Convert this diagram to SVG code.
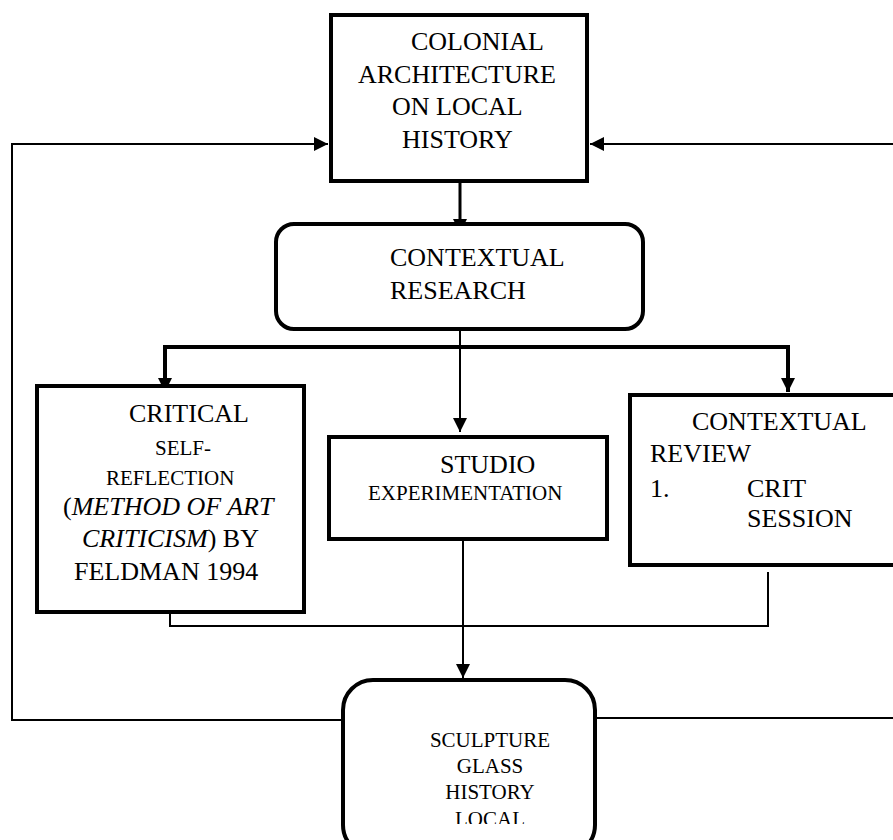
<svg xmlns="http://www.w3.org/2000/svg" width="893" height="840" viewBox="0 0 893 840" font-family="'Liberation Serif', 'Times New Roman', 'DejaVu Serif', serif">
<style>
.box{fill:#fff;stroke:#000;stroke-width:4}
text{font-family:'Liberation Serif','Times New Roman','DejaVu Serif',serif;fill:#000;font-size:26px}
text.s{font-size:21px}
.thin{fill:none;stroke:#000;stroke-width:2}
.mid{fill:none;stroke:#000;stroke-width:3}
.thick{fill:none;stroke:#000;stroke-width:4}
</style>
<defs>
<marker id="ah" markerWidth="14" markerHeight="14" refX="14" refY="7" orient="auto" markerUnits="userSpaceOnUse">
<path d="M0,0 L14,7 L0,14 z" fill="#000"/>
</marker>
<clipPath id="sclip"><rect x="343" y="680" width="252" height="144"/></clipPath>
</defs>
<g id="connectors">
<path class="thin" d="M343,720 H12 V144 H328" marker-end="url(#ah)"/>
<path class="thin" d="M595,718 H900 V144 H590" marker-end="url(#ah)"/>
<path class="mid" d="M460,182 V233" marker-end="url(#ah)"/>
<path class="thin" d="M460,330 V432" marker-end="url(#ah)"/>
<path class="thick" d="M462,347 H165 V392" marker-end="url(#ah)"/>
<path class="thick" d="M458,347 H788 V392" marker-end="url(#ah)"/>
<path class="thin" d="M463,539 V678" marker-end="url(#ah)"/>
<path class="thin" d="M170,613 V626 H768 V572"/>
</g>
<g id="colonial">
<rect class="box" x="331" y="15" width="256" height="166"/>
<text x="411" y="50">COLONIAL</text>
<text x="358" y="83">ARCHITECTURE</text>
<text x="392" y="115">ON LOCAL</text>
<text x="402" y="148">HISTORY</text>
</g>
<g id="contextual-research">
<rect class="box" x="276" y="224" width="367" height="105" rx="18"/>
<text x="390" y="266">CONTEXTUAL</text>
<text x="390" y="299">RESEARCH</text>
</g>
<g id="critical">
<rect class="box" x="37" y="386" width="267" height="226"/>
<text x="129" y="422">CRITICAL</text>
<text class="s" x="155" y="455">SELF-</text>
<text class="s" x="106" y="485">REFLECTION</text>
<text x="63" y="515">(<tspan font-style="italic">METHOD OF ART</tspan></text>
<text x="82" y="547"><tspan font-style="italic">CRITICISM</tspan>) BY</text>
<text x="74" y="580">FELDMAN 1994</text>
</g>
<g id="studio">
<rect class="box" x="329" y="437" width="278" height="102"/>
<text x="440" y="473">STUDIO</text>
<text class="s" x="368" y="500">EXPERIMENTATION</text>
</g>
<g id="contextual-review">
<rect class="box" x="630" y="395" width="280" height="170"/>
<text x="692" y="430">CONTEXTUAL</text>
<text x="650" y="462">REVIEW</text>
<text x="650" y="497">1.</text>
<text x="747" y="497">CRIT</text>
<text x="747" y="527">SESSION</text>
</g>
<g id="sculpture">
<rect class="box" x="343" y="680" width="252" height="175" rx="30"/>
<g clip-path="url(#sclip)" text-anchor="middle">
<text class="s" x="490" y="747">SCULPTURE</text>
<text class="s" x="490" y="773">GLASS</text>
<text class="s" x="490" y="799">HISTORY</text>
<text class="s" x="490" y="826">LOCAL</text>
</g>
</g>
</svg>
